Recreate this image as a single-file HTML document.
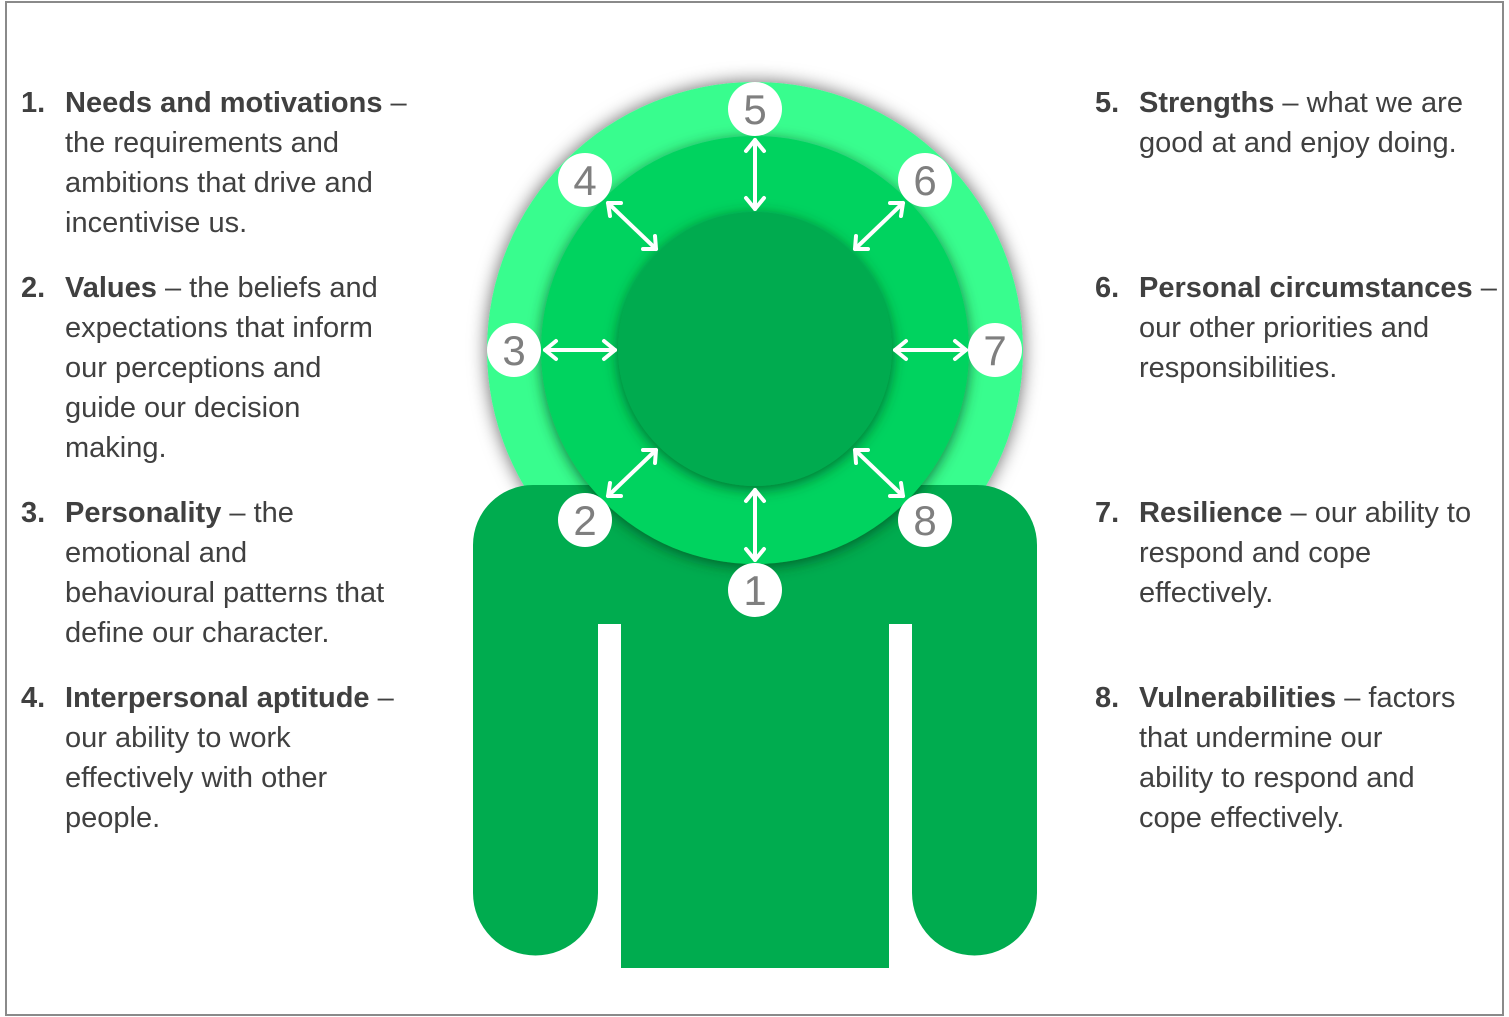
<!DOCTYPE html>
<html><head><meta charset="utf-8"><style>
html,body{margin:0;padding:0;background:#fff;}
#c{position:relative;width:1509px;height:1017px;overflow:hidden;background:#fff;}
#frame{position:absolute;left:5px;top:1px;width:1499px;height:1015px;border:2px solid #8a8a8a;box-sizing:border-box;}
.it{position:absolute;font-family:"Liberation Sans",sans-serif;font-size:29px;line-height:40px;color:#404040;white-space:nowrap;}
.it .n{position:absolute;left:0;top:0;font-weight:bold;}
.it .t{position:absolute;left:44px;top:0;}
b{font-weight:bold;}
svg{position:absolute;left:0;top:0;}
</style></head><body><div id="c">
<div id="frame"></div>
<svg width="1509" height="1017" viewBox="0 0 1509 1017">
<defs>
<filter id="sh" x="-20%" y="-20%" width="140%" height="140%"><feDropShadow dx="0" dy="0" stdDeviation="9" flood-color="#000" flood-opacity="0.6"/></filter>
<filter id="sh2" x="-20%" y="-20%" width="140%" height="140%"><feDropShadow dx="0" dy="3" stdDeviation="7" flood-color="#00401c" flood-opacity="0.7"/></filter>
</defs>
<circle cx="755" cy="350" r="268" fill="#38fd8e" filter="url(#sh)"/>
<path d="M473,545 A60,60 0 0 1 533,485 L977,485 A60,60 0 0 1 1037,545 L1037,893 A62.5,62.5 0 0 1 912,893 L912,624 L889,624 L889,968 L621,968 L621,624 L598,624 L598,893 A62.5,62.5 0 0 1 473,893 Z" fill="#00ac4f"/>
<circle cx="755" cy="350" r="214" fill="#00d35e" filter="url(#sh2)"/>
<circle cx="755" cy="349" r="137" fill="#00ab4f" filter="url(#sh2)"/>
<g stroke="#fff" stroke-width="4" fill="none" stroke-linecap="round" stroke-linejoin="round">
<line x1="755" y1="140" x2="755" y2="209"/><polyline points="746,151 755,140 764,151"/><polyline points="746,198 755,209 764,198"/>
<line x1="755" y1="490" x2="755" y2="560"/><polyline points="746,501 755,490 764,501"/><polyline points="746,549 755,560 764,549"/>
<line x1="545" y1="350" x2="615" y2="350"/><polyline points="556,341 545,350 556,359"/><polyline points="604,341 615,350 604,359"/>
<line x1="895" y1="350" x2="966" y2="350"/><polyline points="906,341 895,350 906,359"/><polyline points="955,341 966,350 955,359"/>
<line x1="608" y1="203" x2="656" y2="249"/><polyline points="610,216 608,203 621,203"/><polyline points="643,249 656,249 655,236"/>
<line x1="903" y1="203" x2="855" y2="249"/><polyline points="901,216 903,203 890,203"/><polyline points="868,249 855,249 856,236"/>
<line x1="608" y1="496" x2="656" y2="450"/><polyline points="610,483 608,496 621,496"/><polyline points="643,450 656,450 655,463"/>
<line x1="903" y1="496" x2="855" y2="450"/><polyline points="901,483 903,496 890,496"/><polyline points="868,450 855,450 856,463"/>
</g>
<g fill="#fff">
<circle cx="755" cy="109" r="27"/><circle cx="585" cy="180" r="27"/><circle cx="925" cy="180" r="27"/>
<circle cx="514" cy="350" r="27"/><circle cx="995" cy="350" r="27"/><circle cx="585" cy="520" r="27"/>
<circle cx="925" cy="520" r="27"/><circle cx="755" cy="590" r="27"/>
</g>
<g fill="#7f7f7f" font-family="Liberation Sans,sans-serif" font-size="42" text-anchor="middle">
<text x="755" y="124">5</text><text x="585" y="195">4</text><text x="925" y="195">6</text>
<text x="514" y="365">3</text><text x="995" y="365">7</text><text x="585" y="535">2</text>
<text x="925" y="535">8</text><text x="755" y="605">1</text>
</g>
</svg>
<div class="it" style="left:21px;top:83px"><span class="n">1.</span><span class="t"><b>Needs and motivations</b> –<br>the requirements and<br>ambitions that drive and<br>incentivise us.</span></div>
<div class="it" style="left:21px;top:268px"><span class="n">2.</span><span class="t"><b>Values</b> – the beliefs and<br>expectations that inform<br>our perceptions and<br>guide our decision<br>making.</span></div>
<div class="it" style="left:21px;top:493px"><span class="n">3.</span><span class="t"><b>Personality</b> – the<br>emotional and<br>behavioural patterns that<br>define our character.</span></div>
<div class="it" style="left:21px;top:678px"><span class="n">4.</span><span class="t"><b>Interpersonal aptitude</b> –<br>our ability to work<br>effectively with other<br>people.</span></div>
<div class="it" style="left:1095px;top:83px"><span class="n">5.</span><span class="t"><b>Strengths</b> – what we are<br>good at and enjoy doing.</span></div>
<div class="it" style="left:1095px;top:268px"><span class="n">6.</span><span class="t"><b>Personal circumstances</b> –<br>our other priorities and<br>responsibilities.</span></div>
<div class="it" style="left:1095px;top:493px"><span class="n">7.</span><span class="t"><b>Resilience</b> – our ability to<br>respond and cope<br>effectively.</span></div>
<div class="it" style="left:1095px;top:678px"><span class="n">8.</span><span class="t"><b>Vulnerabilities</b> – factors<br>that undermine our<br>ability to respond and<br>cope effectively.</span></div>
</div></body></html>
